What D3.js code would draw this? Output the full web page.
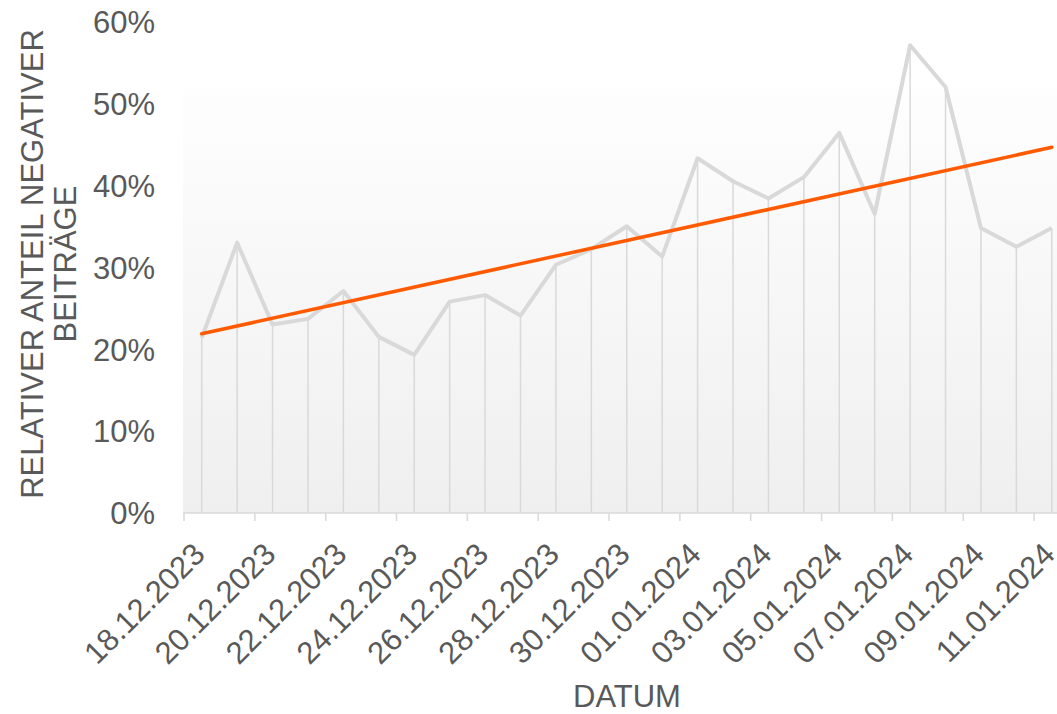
<!DOCTYPE html>
<html>
<head>
<meta charset="utf-8">
<script src="https://cdn.jsdelivr.net/npm/d3@7"></script>
<style>
  html, body { margin: 0; padding: 0; background: #ffffff; overflow: hidden; }
  svg { display: block; }
  text { font-family: "Liberation Sans", Arial, sans-serif; fill: #595959; }
</style>
</head>
<body>
<svg id="chart" width="1057" height="714"></svg>
<script>
// ---- data ----
const dates = [
  "18.12.2023","19.12.2023","20.12.2023","21.12.2023","22.12.2023","23.12.2023","24.12.2023",
  "25.12.2023","26.12.2023","27.12.2023","28.12.2023","29.12.2023","30.12.2023","31.12.2023",
  "01.01.2024","02.01.2024","03.01.2024","04.01.2024","05.01.2024","06.01.2024","07.01.2024",
  "08.01.2024","09.01.2024","10.01.2024","11.01.2024"
];
const shares = [
  0.214, 0.330, 0.230, 0.237, 0.271, 0.215, 0.193, 0.258, 0.266, 0.241, 0.303, 0.322, 0.350,
  0.313, 0.433, 0.405, 0.384, 0.410, 0.464, 0.365, 0.571, 0.520, 0.348, 0.325, 0.348
];
const yTicks = [0, 0.1, 0.2, 0.3, 0.4, 0.5, 0.6];
const yTitleLines = ["RELATIVER ANTEIL NEGATIVER", "BEITRÄGE"];
const xTitle = "DATUM";

// ---- layout ----
const svg = d3.select("#chart");
const plotLeft = 184, plotRight = 1069.5, plotTop = 21.5, plotBottom = 513;
const idx = d3.range(dates.length);

const x = d3.scaleBand().domain(idx).range([plotLeft, plotRight]).padding(0);
const cx = i => x(i) + x.bandwidth() / 2;
const y = d3.scaleLinear().domain([0, 0.6]).range([plotBottom, plotTop]);

// background gradient
const defs = svg.append("defs");
const grad = defs.append("linearGradient").attr("id", "bg").attr("x1", 0).attr("y1", 0).attr("x2", 0).attr("y2", 1);
grad.append("stop").attr("offset", "0%").attr("stop-color", "#fefefe");
grad.append("stop").attr("offset", "100%").attr("stop-color", "#efefef");
svg.append("rect")
  .attr("x", plotLeft - 1).attr("y", y(0.52))
  .attr("width", plotRight - plotLeft + 1).attr("height", plotBottom - y(0.52))
  .attr("fill", "url(#bg)");

// drop lines
svg.append("g").selectAll("line").data(idx).join("line")
  .attr("x1", cx).attr("x2", cx)
  .attr("y1", i => y(shares[i])).attr("y2", plotBottom)
  .attr("stroke", "#d9d9d9").attr("stroke-width", 1.5);

// data line
svg.append("path").datum(idx)
  .attr("fill", "none").attr("stroke", "#d9d9d9").attr("stroke-width", 4)
  .attr("stroke-linejoin", "round")
  .attr("d", d3.line().x(cx).y(i => y(shares[i])));

// linear trend (least squares)
const n = shares.length;
const mx = d3.mean(idx), my = d3.mean(shares);
const slope = d3.sum(idx, i => (i - mx) * (shares[i] - my)) / d3.sum(idx, i => (i - mx) ** 2);
const icpt = my - slope * mx;
svg.append("path").datum([0, n - 1])
  .attr("fill", "none").attr("stroke", "#ff5a00").attr("stroke-width", 3.5)
  .attr("stroke-linecap", "round")
  .attr("d", d3.line().x(cx).y(i => y(icpt + slope * i)));

// x axis line + boundary ticks
const xAxisG = svg.append("g");
xAxisG.append("line")
  .attr("x1", plotLeft - 1).attr("x2", plotRight).attr("y1", plotBottom).attr("y2", plotBottom)
  .attr("stroke", "#d9d9d9").attr("stroke-width", 1.5);
const tickIdx = idx.filter(i => i % 2 === 0);
xAxisG.selectAll("line.tk").data(tickIdx).join("line").attr("class", "tk")
  .attr("x1", i => x(i)).attr("x2", i => x(i))
  .attr("y1", plotBottom).attr("y2", plotBottom + 8)
  .attr("stroke", "#d9d9d9").attr("stroke-width", 1.5);

// x labels via d3 axis
const xAxis = d3.axisBottom(x).tickValues(tickIdx).tickFormat(i => dates[i]).tickSize(0).tickPadding(0);
const xl = svg.append("g").attr("transform", `translate(0,${plotBottom})`).call(xAxis);
xl.select(".domain").remove();
xl.selectAll(".tick text")
  .attr("font-size", 31).attr("fill", "#595959")
  .attr("text-anchor", "end")
  .attr("dy", null).attr("y", null)
  .attr("transform", "translate(5,43) rotate(-45)");

// y labels via d3 axis
const yAxis = d3.axisLeft(y).tickValues(yTicks).tickFormat(d3.format(".0%")).tickSize(0).tickPadding(0);
const yl = svg.append("g").attr("transform", `translate(155,0)`).call(yAxis);
yl.select(".domain").remove();
yl.selectAll(".tick text").attr("font-size", 31).attr("fill", "#595959").attr("dy", "0.35em");

// titles
svg.append("text").attr("x", 627).attr("y", 707).attr("text-anchor", "middle")
  .attr("font-size", 31).text(xTitle);
const yt = svg.append("g").attr("transform", "translate(0,264) rotate(-90)");
yTitleLines.forEach((t, k) => {
  yt.append("text").attr("x", 0).attr("y", 43 + 33 * k).attr("text-anchor", "middle")
    .attr("font-size", 31).text(t);
});
</script>
</body>
</html>
